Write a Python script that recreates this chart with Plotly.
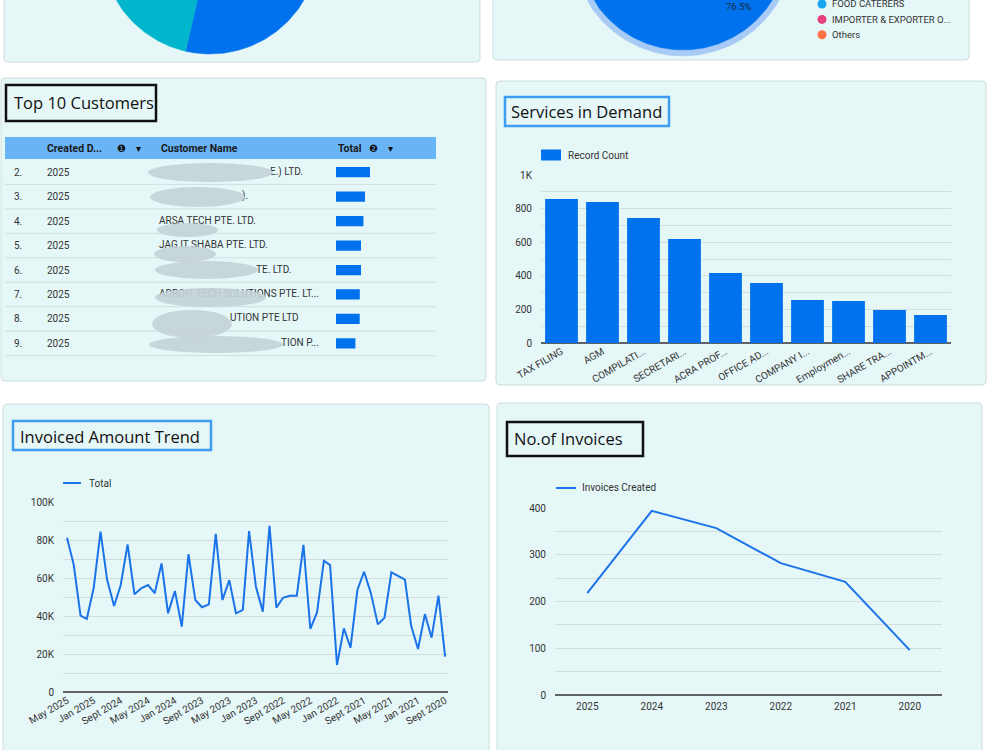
import numpy as np
import pandas as pd
import plotly.graph_objects as go

W, H = 1000, 750

# ------------------------------------------------------------------ data
pie1_labels = ["Segment A", "Segment B", "Segment C", "Segment D"]
pie1_values = [53.6, 28.0, 10.0, 8.4]
pie1_colors = ["#0072ee", "#00b5cc", "#f10096", "#f66d00"]

pie2_labels = ["GENERAL SERVICES", "FOOD CATERERS", "IMPORTER & EXPORTER O...", "Others"]
pie2_values = [76.5, 8.5, 7.5, 7.5]
pie2_colors = ["#0072ee", "#17a6f2", "#e8407a", "#ff7043"]

cust_rank = ["2.", "3.", "4.", "5.", "6.", "7.", "8.", "9."]
cust_year = ["2025", "2025", "2025", "2025", "2025", "2025", "2025", "2025"]
cust_names = ["E.) LTD.", ").", "ARSA TECH PTE. LTD.", "JAG IT SHABA PTE. LTD.",
              "TE. LTD.", "ADROIT TECH SOLUTIONS PTE. LT...", "UTION PTE LTD", "TION P..."]
cust_totals = [17000, 14500, 13700, 12500, 12500, 11900, 11850, 9700]

svc_labels = ["TAX FILING", "AGM", "COMPILATI...", "SECRETARI...", "ACRA PROF...",
              "OFFICE AD...", "COMPANY I...", "Employmen...", "SHARE TRA...", "APPOINTM..."]
svc_counts = [857, 839, 744, 619, 417, 357, 256, 250, 196, 167]

trend_months = pd.date_range("2020-09-01", "2025-05-01", freq="MS")[::-1]
trend_totals = [81200, 67200, 40200, 38400, 54600, 84400, 58900, 45300, 56300, 77700,
                51400, 54600, 56300, 52000, 67700, 41400, 53200, 34400, 72500, 48400,
                44600, 46100, 83200, 48400, 58900, 41400, 43200, 84700, 55400, 42300,
                87500, 44400, 49600, 50700, 50700, 77400, 33200, 41900, 69100, 66800,
                14200, 33500, 23300, 53700, 63300, 51900, 35600, 39100, 63000, 61200,
                59100, 34900, 22600, 41000, 28600, 50700, 18600]
trend_tick_labels = ["May 2025", "Jan 2025", "Sept 2024", "May 2024", "Jan 2024",
                     "Sept 2023", "May 2023", "Jan 2023", "Sept 2022", "May 2022",
                     "Jan 2022", "Sept 2021", "May 2021", "Jan 2021", "Sept 2020"]
trend_tick_dates = list(trend_months[::4])

inv_years = ["2025", "2024", "2023", "2022", "2021", "2020"]
inv_counts = [218, 394, 357, 282, 242, 96]

# ------------------------------------------------------------------ styles
PANEL_FILL = "#e6f7f8"
PANEL_LINE = "#cddcdd"
BAR_BLUE = "#0072ee"
LINE_BLUE = "#1a73e8"
GRID = "#d6dcdc"
TXT = "#333333"
FONT = "Roboto"
TITLE_FONT = "Open Sans"


def X(x):
    return x / W


def Y(y):
    return 1 - y / H


shapes = []
ann = []


def P(x, y):
    return f"{X(x):.5f},{Y(y):.5f}"


def panel(x0, y0, x1, y1, r=4):
    path = (f"M{P(x0 + r, y0)} L{P(x1 - r, y0)} Q{P(x1, y0)} {P(x1, y0 + r)} "
            f"L{P(x1, y1 - r)} Q{P(x1, y1)} {P(x1 - r, y1)} L{P(x0 + r, y1)} "
            f"Q{P(x0, y1)} {P(x0, y1 - r)} L{P(x0, y0 + r)} Q{P(x0, y0)} {P(x0 + r, y0)} Z")
    shapes.append(dict(type="path", path=path, xref="paper", yref="paper",
                       fillcolor=PANEL_FILL, line=dict(color=PANEL_LINE, width=1), layer="below"))


def box(x0, y0, x1, y1, fill=None, color=None, width=0, kind="rect", layer="below"):
    shapes.append(dict(type=kind, xref="paper", yref="paper", x0=X(x0), x1=X(x1), y0=Y(y0), y1=Y(y1),
                       fillcolor=fill if fill else "rgba(0,0,0,0)",
                       line=dict(color=color if color else "rgba(0,0,0,0)", width=width), layer=layer))


def hline(x0, x1, y, color, width=1):
    shapes.append(dict(type="line", xref="paper", yref="paper", x0=X(x0), x1=X(x1), y0=Y(y), y1=Y(y),
                       line=dict(color=color, width=width), layer="below"))


def text(x, y, s, size=10, color=TXT, family=FONT, xanchor="left"):
    ann.append(dict(x=X(x), y=Y(y), xref="paper", yref="paper", text=s, showarrow=False,
                    xanchor=xanchor, yanchor="middle", font=dict(family=family, size=size, color=color)))


# panels
panel(4, -10, 480, 62)
panel(493, -10, 969, 60)
panel(1, 78, 486, 381)
panel(496, 81, 986, 385)
panel(3, 404, 489, 770)
panel(497, 403, 982, 770)

# title boxes
box(6, 85, 156, 121, color="#111111", width=2.5)
text(12, 102, "Top 10 Customers", size=16.5, color="#111", family=TITLE_FONT)
box(505, 97, 669, 126, color="#3f9ef2", width=2.5)
text(509, 112, "Services in Demand", size=16.5, color="#111", family=TITLE_FONT)
box(13, 421, 211, 450, color="#3f9ef2", width=2.5)
text(18, 436, "Invoiced Amount Trend", size=16.5, color="#111", family=TITLE_FONT)
box(507, 422, 643, 456, color="#111111", width=2.5)
text(512, 438, "No.of Invoices", size=16.5, color="#111", family=TITLE_FONT)

fig = go.Figure()

# ------------------------------------------------------------------ pies


def wedges(values, cx, cy, r_out, r_in=0.0):
    total = float(sum(values))
    a = 0.0
    res = []
    for v in values:
        a1 = a + 2 * np.pi * v / total
        t = np.linspace(a, a1, max(10, int(360 * v / total)))
        xo = cx + r_out * np.sin(t)
        yo = cy - r_out * np.cos(t)
        if r_in > 0:
            xi = cx + r_in * np.sin(t[::-1])
            yi = cy - r_in * np.cos(t[::-1])
            xs = np.concatenate([xo, xi, xo[:1]])
            ys = np.concatenate([yo, yi, yo[:1]])
        else:
            xs = np.concatenate([[cx], xo, [cx]])
            ys = np.concatenate([[cy], yo, [cy]])
        res.append((xs, ys))
        a = a1
    return res


for (xs, ys), col in zip(wedges(pie1_values, 210, -55, 109), pie1_colors):
    fig.add_trace(go.Scatter(x=xs, y=ys, fill="toself", fillcolor=col, mode="lines",
                             line=dict(color=col, width=0.5), xaxis="x4", yaxis="y4", hoverinfo="skip"))

ring = wedges(pie2_values, 683, -55, 111, 105)[0]
fig.add_trace(go.Scatter(x=ring[0], y=ring[1], fill="toself", fillcolor="#a8cbf5", mode="lines",
                         line=dict(color="#a8cbf5", width=0.5), xaxis="x5", yaxis="y5", hoverinfo="skip"))
for (xs, ys), col in zip(wedges(pie2_values, 683, -55, 105), pie2_colors):
    fig.add_trace(go.Scatter(x=xs, y=ys, fill="toself", fillcolor=col, mode="lines",
                             line=dict(color=col, width=0.5), xaxis="x5", yaxis="y5", hoverinfo="skip"))
text(739, 7, f"{pie2_values[0] / sum(pie2_values) * 100:.1f}%", size=9.5, color="#1d2b3a", xanchor="center")

# pie2 legend (first entry sits above the visible area)
for i, (lab, col) in enumerate(zip(pie2_labels, pie2_colors)):
    yy = 4 + 15.4 * (i - 1)
    if yy < -4:
        continue
    box(817.5, yy - 4.5, 826.5, yy + 4.5, fill=col, kind="circle")
    text(830, yy, lab, size=9.5, color=TXT)

# ------------------------------------------------------------------ table
box(5, 137, 436, 159, fill="#69b4f5")
hdr_y = 148
text(45, hdr_y, "<b>Created D...</b>", size=10.5, color="#1a1a1a")
text(121.5, hdr_y, "❶", size=10, color="#111", family="DejaVu Sans", xanchor="center")
text(138, hdr_y, "▾", size=10, color="#111", family="DejaVu Sans", xanchor="center")
text(159, hdr_y, "<b>Customer Name</b>", size=10.5, color="#1a1a1a")
text(336, hdr_y, "<b>Total</b>", size=10.5, color="#1a1a1a")
text(373, hdr_y, "❷", size=10, color="#111", family="DejaVu Sans", xanchor="center")
text(390, hdr_y, "▾", size=10, color="#111", family="DejaVu Sans", xanchor="center")

row_top, row_h = 160, 24.45
for i, (rk, yr) in enumerate(zip(cust_rank, cust_year)):
    yc = row_top + row_h * (i + 0.5)
    text(12, yc, rk, size=10, color=TXT)
    text(45, yc, yr, size=10, color=TXT)
    hline(5, 436, row_top + row_h * (i + 1), "#d3dfe1", 1)

rows = list(range(len(cust_names)))
name_x = [270, 242, 159, 159, 256, 159, 230, 281]
fig.add_trace(go.Scatter(x=name_x, y=rows, text=cust_names, mode="text", textposition="middle right",
                         textfont=dict(family=FONT, size=10, color=TXT), xaxis="x6", yaxis="y6",
                         hoverinfo="skip"))
fig.add_trace(go.Bar(x=cust_totals, y=rows, orientation="h", width=0.42, marker_color=BAR_BLUE,
                     marker_line_width=0, xaxis="x7", yaxis="y6", hoverinfo="skip"))

# redaction blurs over names
blur = "rgba(196,211,216,0.92)"
for (x0, y0, x1, y1) in [(148, 163, 273, 182), (150, 187, 245, 207), (157, 223, 218, 237),
                         (154, 246, 216, 262), (155, 261, 258, 279), (155, 288, 266, 307),
                         (152, 310, 232, 338), (149, 336, 283, 353)]:
    box(x0, y0, x1, y1, fill=blur, kind="circle", layer="above")

# ------------------------------------------------------------------ services bars
fig.add_trace(go.Bar(x=svc_labels, y=svc_counts, marker_color=BAR_BLUE, marker_line_width=0,
                     xaxis="x", yaxis="y", hoverinfo="skip"))
box(541, 149.5, 561, 160.5, fill=BAR_BLUE)
text(566, 155, "Record Count", size=10, color=TXT)

# ------------------------------------------------------------------ trend line
fig.add_trace(go.Scatter(x=trend_months, y=trend_totals, mode="lines",
                         line=dict(color=LINE_BLUE, width=2), xaxis="x2", yaxis="y2", hoverinfo="skip"))
hline(63, 81, 483, LINE_BLUE, 2)
text(87, 483, "Total", size=10, color=TXT)

# ------------------------------------------------------------------ invoices line
fig.add_trace(go.Scatter(x=inv_years, y=inv_counts, mode="lines",
                         line=dict(color=LINE_BLUE, width=2), xaxis="x3", yaxis="y3", hoverinfo="skip"))
hline(556, 576, 488, LINE_BLUE, 2)
text(580, 488, "Invoices Created", size=10, color=TXT)

# ------------------------------------------------------------------ axes
tickfont = dict(family=FONT, size=10, color=TXT)


def yax(domain, vals, labels, rng, anchor):
    return dict(domain=domain, range=rng, tickvals=vals, ticktext=labels, showgrid=True,
                gridcolor=GRID, gridwidth=1, zeroline=True, zerolinecolor="#5f6368", zerolinewidth=1.5,
                showline=False, ticks="", tickfont=tickfont, ticklabelstandoff=8, anchor=anchor,
                fixedrange=True, automargin=False)


svc_ticks = list(range(0, 1001, 100))
svc_text = [("1K" if v == 1000 else str(v)) if v % 200 == 0 else "" for v in svc_ticks]
tr_ticks = list(range(0, 100001, 10000))
tr_text = [(f"{v // 1000}K" if v else "0") if v % 20000 == 0 else "" for v in tr_ticks]
inv_ticks = list(range(0, 401, 50))
inv_text = [str(v) if v % 100 == 0 else "" for v in inv_ticks]

hidden = dict(visible=False, fixedrange=True, automargin=False)

fig.update_layout(
    width=W, height=H, margin=dict(l=0, r=0, t=0, b=0, pad=0, autoexpand=False),
    paper_bgcolor="white", plot_bgcolor="rgba(0,0,0,0)",
    showlegend=False, hovermode=False, bargap=0.2,
    shapes=shapes, annotations=ann,
    xaxis=dict(domain=[X(541), X(951)], type="category", tickangle=-30, tickfont=tickfont,
               showgrid=False, showline=False, ticks="", anchor="y", fixedrange=True, automargin=False),
    yaxis=yax([Y(343), Y(175)], svc_ticks, svc_text, [0, 1000], "x"),
    xaxis2=dict(domain=[X(63), X(448)], type="date", range=["2025-05-19", "2020-08-19"],
                tickvals=trend_tick_dates, ticktext=trend_tick_labels, tickangle=-30, tickfont=tickfont,
                showgrid=False, showline=False, ticks="", anchor="y2", fixedrange=True, automargin=False),
    yaxis2=yax([Y(692), Y(502)], tr_ticks, tr_text, [0, 100000], "x2"),
    xaxis3=dict(domain=[X(555), X(942)], type="category", range=[-0.5, len(inv_years) - 0.5],
                tickangle=0, tickfont=tickfont, ticklabelstandoff=4,
                showgrid=False, showline=False, ticks="", anchor="y3", fixedrange=True, automargin=False),
    yaxis3=yax([Y(695), Y(508)], inv_ticks, inv_text, [0, 400], "x3"),
    xaxis4=dict(domain=[X(4), X(480)], range=[4, 480], anchor="y4", **hidden),
    yaxis4=dict(domain=[Y(62), 1], range=[62, 0], anchor="x4", **hidden),
    xaxis5=dict(domain=[X(493), X(969)], range=[493, 969], anchor="y5", **hidden),
    yaxis5=dict(domain=[Y(60), 1], range=[60, 0], anchor="x5", **hidden),
    xaxis6=dict(domain=[X(5), X(436)], range=[5, 436], anchor="y6", **hidden),
    yaxis6=dict(domain=[Y(row_top + row_h * 8), Y(row_top)], range=[7.5, -0.5], anchor="x6", **hidden),
    xaxis7=dict(domain=[X(336), X(436)], range=[0, 50000], anchor="y6", **hidden),
)

fig.write_html("out.html", config={"displayModeBar": False})
